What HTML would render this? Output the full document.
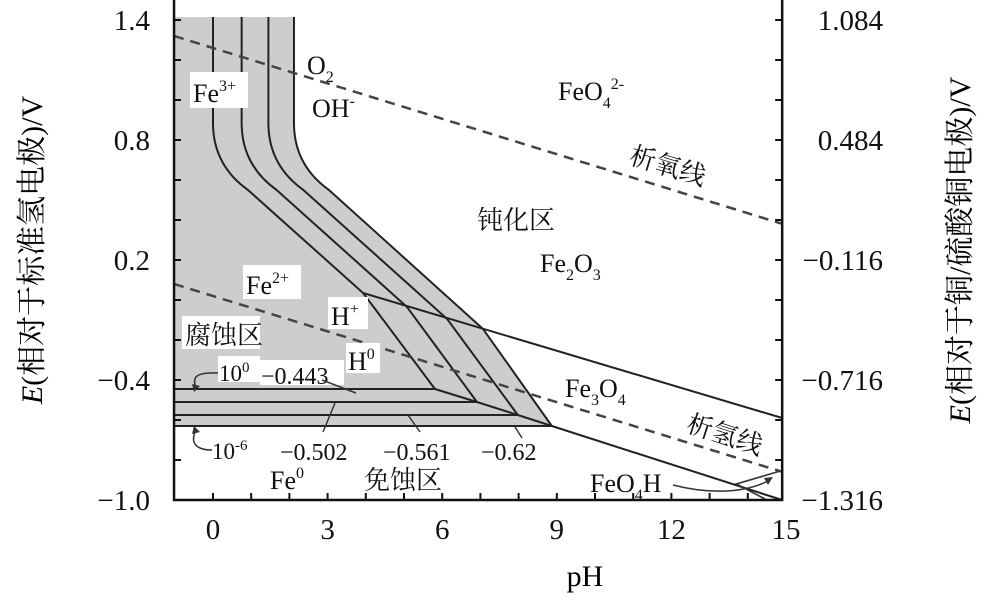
<!DOCTYPE html>
<html><head><meta charset="utf-8"><style>
html,body{margin:0;padding:0;background:#fff;}
svg{display:block;font-family:"Liberation Serif","Noto Serif CJK SC","Noto Sans CJK SC",serif;}
</style></head><body>
<svg id="chart" width="993" height="601" viewBox="0 0 993 601">
<g id="plot"></g>
<g id="labels" font-size="26" fill="#111">
 <rect x="190" y="72" width="58" height="36" fill="#fff"/>
 <text x="193" y="102">Fe<tspan font-size="16" dy="-11">3+</tspan></text>
 <text x="307" y="74">O<tspan font-size="16" dy="8">2</tspan></text>
 <text x="312" y="117">OH<tspan font-size="16" dy="-11">-</tspan></text>
 <text x="558" y="100">FeO<tspan font-size="16" dy="8">4</tspan><tspan font-size="16" dy="-19">2-</tspan></text>
 <text x="628" y="163" transform="rotate(17 628 163)">析氧线</text>
 <text x="477" y="229">钝化区</text>
 <text x="540" y="272">Fe<tspan font-size="16" dy="8">2</tspan><tspan dy="-8">O</tspan><tspan font-size="16" dy="8">3</tspan></text>
 <rect x="243" y="265" width="58" height="34" fill="#fff"/>
 <text x="246" y="294">Fe<tspan font-size="16" dy="-11">2+</tspan></text>
 <rect x="328" y="297" width="40" height="32" fill="#fff"/>
 <text x="331" y="325">H<tspan font-size="16" dy="-11">+</tspan></text>
 <rect x="182" y="316" width="78" height="33" fill="#fff"/>
 <text x="185" y="344">腐蚀区</text>
 <rect x="346" y="343" width="34" height="30" fill="#fff"/>
 <text x="348" y="370">H<tspan font-size="16" dy="-11">0</tspan></text>
 <rect x="218" y="356" width="42" height="26" fill="#fff"/>
 <text x="219" y="381" font-size="23">10<tspan font-size="15" dy="-9">0</tspan></text>
 <rect x="260" y="360" width="84" height="25" fill="#fff"/>
 <text x="261" y="384" font-size="24">−0.443</text>
 <text x="212" y="459" font-size="23">10<tspan font-size="15" dy="-9">-6</tspan></text>
 <text x="280" y="460" font-size="24">−0.502</text>
 <text x="383" y="460" font-size="24">−0.561</text>
 <text x="481" y="460" font-size="24">−0.62</text>
 <text x="270" y="489">Fe<tspan font-size="16" dy="-11">0</tspan></text>
 <text x="364" y="489">免蚀区</text>
 <text x="565" y="397">Fe<tspan font-size="16" dy="8">3</tspan><tspan dy="-8">O</tspan><tspan font-size="16" dy="8">4</tspan></text>
 <text x="685" y="431" transform="rotate(18 685 431)">析氢线</text>
 <text x="590" y="492">FeO<tspan font-size="16" dy="8">4</tspan><tspan dy="-8">H</tspan></text>
 <g fill="none" stroke="#333" stroke-width="1.5">
  <path d="M322,380 L356,393"/>
  <path d="M323,432 L335,403"/>
  <path d="M420,432 L408,415"/>
  <path d="M522,438 L515,427"/>
  <path d="M218,373 C195,372 192,378 196,387"/>
  <path d="M212,450 C195,450 190,442 196,430"/>
  <path d="M673,485 C700,492 740,496 770,480"/>
 </g>
 <path d="M194,392 L192,384 L200,386 Z M194,426 L192,434 L200,432 Z M773,477 L764,478 L768,485 Z" fill="#333"/>
</g>
<g id="axes" font-size="29" fill="#111"></g>
<text x="585" y="586" font-size="30" text-anchor="middle">pH</text>
<text transform="translate(42 250) rotate(-90)" font-size="30" text-anchor="middle"><tspan font-style="italic">E</tspan>(相对于标准氢电极)/V</text>
<text transform="translate(970 250) rotate(-90)" font-size="30" text-anchor="middle"><tspan font-style="italic">E</tspan>(相对于铜/硫酸铜电极)/V</text>
</svg>
<script>
const xTicks=[0,3,6,9,12,15];
const yTicks=[1.4,0.8,0.2,-0.4,-1.0];
const yTickLabels=["1.4","0.8","0.2","−0.4","−1.0"];
const rightTickLabels=["1.084","0.484","−0.116","−0.716","−1.316"];
const fe3VerticalPH=[0,0.75,1.45,2.12];
const eTop=1.415, eBend=0.885;
const kneePH=[3.93,5.08,6.13,7.07];
const kneeE=[0.035,-0.035,-0.095,-0.145];
const bottomPH=[5.81,6.91,7.98,8.87];
const bottomE=[-0.445,-0.51,-0.575,-0.63];
const o2Line=[1.26,-0.059];
const h2Line=[0.02,-0.059];
const fe2o3EndE=-0.59, fe3o4EndE=-1.0;
const feo4hPH=[13.7,14.85,14.5], feo4hE=[-0.92,-0.855,-1.0];
const pHmin=-1.02,pHmax=14.9,Emin=-1.0;

const X=p=>213+38.2*p;
const Y=e=>380-(e+0.4)*200;
const NS="http://www.w3.org/2000/svg";
const plot=document.getElementById('plot');
const axes=document.getElementById('axes');
function mk(tag,attrs,parent){const el=document.createElementNS(NS,tag);for(const k in attrs)el.setAttribute(k,attrs[k]);parent.appendChild(el);return el;}

const vO=X(fe3VerticalPH[3]);
let d=`M${X(pHmin)},${Y(eTop)} L${vO},${Y(eTop)} L${vO},${Y(eBend)} Q${vO},${Y(eBend)+42} ${vO+35},${Y(eBend)+67} L${X(kneePH[3])},${Y(kneeE[3])} L${X(bottomPH[3])},${Y(bottomE[3])} L${X(pHmin)},${Y(bottomE[3])} Z`;
let g=mk('path',{d:d,fill:'#cdcdcd',stroke:'none'},plot);



for(let i=0;i<4;i++){
  const v=X(fe3VerticalPH[i]);
  const p=`M${v},${Y(eTop)} L${v},${Y(eBend)} Q${v},${Y(eBend)+42} ${v+35},${Y(eBend)+67} L${X(kneePH[i])},${Y(kneeE[i])} L${X(bottomPH[i])},${Y(bottomE[i])}`;
  const el=mk('path',{d:p,fill:'none',stroke:'#222','stroke-width':2},plot);
  
  
  const h=mk('line',{x1:X(pHmin),y1:Y(bottomE[i]),x2:X(bottomPH[i]),y2:Y(bottomE[i]),stroke:'#222','stroke-width':2},plot);
  
  
}
let l=mk('line',{x1:X(kneePH[0]),y1:Y(kneeE[0]),x2:X(pHmax),y2:Y(fe2o3EndE),stroke:'#222','stroke-width':2},plot);


l=mk('polyline',{points:bottomPH.map((p,i)=>X(p)+','+Y(bottomE[i])).join(' ')+` ${X(pHmax)},${Y(fe3o4EndE)}`,fill:'none',stroke:'#222','stroke-width':2},plot);


l=mk('polyline',{points:`${X(feo4hPH[1])},${Y(feo4hE[1])} ${X(feo4hPH[0])},${Y(feo4hE[0])} ${X(feo4hPH[2])},${Y(feo4hE[2])}`,fill:'none',stroke:'#333','stroke-width':1.6},plot);


[[o2Line,'oxygen-evolution-line'],[h2Line,'hydrogen-evolution-line']].forEach(([c,n])=>{
  const e=mk('line',{x1:X(pHmin),y1:Y(c[0]+c[1]*pHmin),x2:X(pHmax),y2:Y(c[0]+c[1]*pHmax),stroke:'#444','stroke-width':2.5,'stroke-dasharray':'10,7'},plot);
  
  
});
const fL=X(pHmin),fR=X(pHmax),fB=Y(Emin);
l=mk('path',{d:`M${fL},0 L${fL},${fB} L${fR},${fB} L${fR},0`,fill:'none',stroke:'#111','stroke-width':2.5},axes);


for(let p=0;p<=14;p++){
  const t=mk('line',{x1:X(p),y1:fB,x2:X(p),y2:fB-7,stroke:'#111','stroke-width':2},axes);
  
  
}
xTicks.forEach(p=>{
  const t=mk('text',{x:X(p),y:fB+39,'text-anchor':'middle'},axes);t.textContent=String(p);
  
  
});
for(let e=-1.0;e<=1.41;e+=0.2){
  [[fL,fL+7],[fR,fR-7]].forEach(([a,b])=>{
    const t=mk('line',{x1:a,y1:Y(e),x2:b,y2:Y(e),stroke:'#111','stroke-width':2},axes);
    
    
  });
}
yTicks.forEach((e,i)=>{
  const t=mk('text',{x:150,y:Y(e)+10,'text-anchor':'end'},axes);t.textContent=yTickLabels[i];
  
  
  const r=mk('text',{x:883,y:Y(e)+10,'text-anchor':'end'},axes);r.textContent=rightTickLabels[i];
  
  
});
</script>
</body></html>
